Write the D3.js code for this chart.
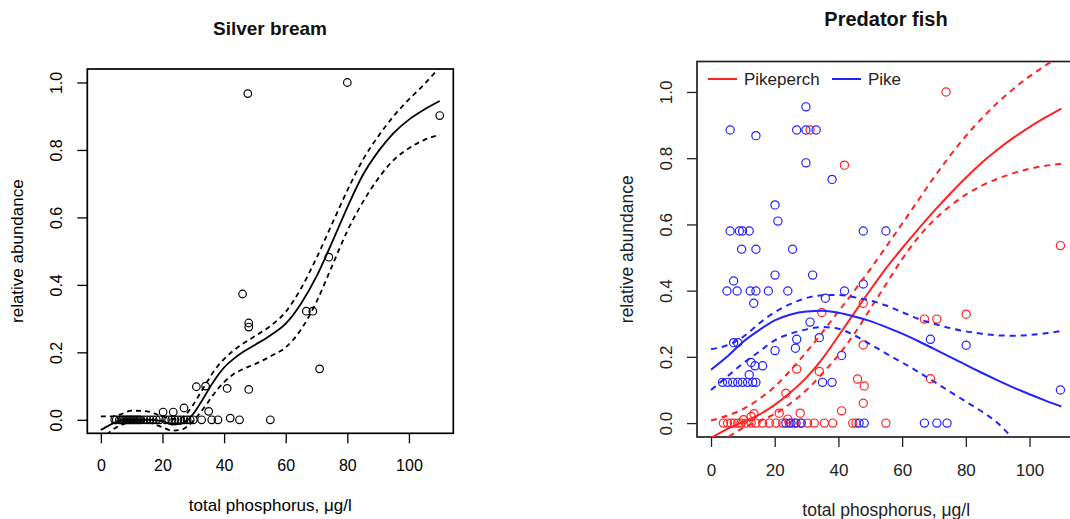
<!DOCTYPE html>
<html lang="en">

<head>
    <meta charset="UTF-8">
    <title>Silver bream / Predator fish</title>
    <style>
        body {
            margin: 0;
            background: #fff;
        }

        text {
            font-family: "Liberation Sans", Arial, sans-serif;
        }
    </style>
</head>

<body>
    <div id="wrapper"></div>

    <script src="https://d3js.org/d3.v7.min.js"></script>
    <script>
        // ===== data =====
        // Silver bream: observations
        const breamX = [4.5, 5, 6, 6.5, 7, 7.5, 8, 8.5, 9, 9.5, 10, 10.5, 11, 11.5, 12, 12.5, 13, 14, 15, 16, 17, 18, 19,
            21, 22, 23, 24, 25, 26, 27, 28, 29, 30, 32.7, 36, 38, 45, 55,
            42, 20.2, 23.5, 27, 35, 31, 34, 41, 48, 71, 46, 48, 48, 66.7, 68.8, 74, 47.7, 80, 110];
        const breamY = [0, 0, 0, 0, 0, 0, 0, 0, 0, 0, 0, 0, 0, 0, 0, 0, 0, 0, 0, 0, 0, 0, 0,
            0, 0, 0, 0, 0, 0, 0, 0, 0, 0, 0, 0, 0, 0, 0,
            0.005, 0.023, 0.023, 0.035, 0.025, 0.098, 0.1, 0.093, 0.09, 0.151, 0.373, 0.287, 0.275, 0.322, 0.322, 0.482, 0.967, 1.0, 0.902];

        // Silver bream: fitted curve and its confidence band
        const breamCurveX = [0, 3, 6, 10, 15, 20, 23, 26, 28, 30, 32, 34, 36, 38, 40, 43, 46, 50, 55, 60, 65, 70, 75, 80, 85, 90, 95, 100, 105, 110];
        const breamFit = [-0.03, -0.015, -0.003, 0, 0, -0.004, -0.014, -0.012, -0.002, 0.018, 0.045, 0.075, 0.105, 0.132, 0.155, 0.18, 0.2,
            0.222, 0.25, 0.285, 0.345, 0.425, 0.525, 0.63, 0.725, 0.795, 0.85, 0.89, 0.92, 0.945];
        const breamUpper = [0.01, 0.01, 0.015, 0.027, 0.025, 0.01, 0.003, 0.005, 0.02, 0.045, 0.075, 0.105, 0.135, 0.16, 0.18, 0.205, 0.225,
            0.248, 0.278, 0.32, 0.39, 0.48, 0.58, 0.68, 0.77, 0.84, 0.9, 0.95, 0.995, 1.045];
        const breamLower = [-0.065, -0.035, -0.018, -0.007, -0.008, -0.022, -0.032, -0.03, -0.02, -0.003, 0.018, 0.042, 0.068, 0.092, 0.112,
            0.135, 0.15, 0.165, 0.188, 0.215, 0.268, 0.35, 0.455, 0.56, 0.645, 0.715, 0.77, 0.805, 0.83, 0.845];

        // Predator fish: Pikeperch observations
        const pikeperchX = [3.9, 5.2, 6.3, 7.3, 8.4, 9.4, 11.0, 12.6, 14.1, 16.2, 18.3, 20.4, 22.5, 24.6, 26.2, 28.3, 30.3, 32.4, 35.6, 38.2, 44.5, 45.5, 54.9,
            10.2, 12.6, 13.5, 21.4, 24.1, 28, 41, 47.8, 23.5, 26.9, 34, 46, 48.1, 68.9, 34.8, 47.8, 47.8, 67, 70.9, 80.1, 31.1, 41.9, 73.8, 109.7];
        const pikeperchY = [0, 0, 0, 0, 0, 0, 0, 0, 0, 0, 0, 0, 0, 0, 0, 0, 0, 0, 0, 0, 0, 0, 0,
            0.01, 0.02, 0.028, 0.03, 0.012, 0.03, 0.037, 0.06, 0.09, 0.163, 0.156, 0.133, 0.112, 0.134, 0.334, 0.236, 0.362, 0.314, 0.314, 0.329, 0.885, 0.779, 1.0, 0.536];

        // Predator fish: Pike observations
        const pikeX = [29.8, 6.0, 14.1, 26.9, 29.8, 33.0, 29.8, 38, 20.1, 21, 6, 8.9, 9.9, 12, 47.8, 54.9, 9.6, 14.1, 25.6, 20.1, 31.9, 7.1,
            5, 8.2, 12.3, 14.1, 18, 24.1, 41.9, 13.4, 47.8, 35.9, 31.1, 7.1, 8.4, 26.9, 34, 26.5, 20.1, 41, 12.6, 13.8, 16.2, 12,
            3.6, 5.2, 6.8, 8.4, 9.9, 11.5, 13.1, 14.1, 35, 38, 68.9, 80.1, 109.7, 23.5, 25.1, 26.7, 28.3, 46.5, 48.1, 67, 70.9, 74.1];
        const pikeY = [0.955, 0.885, 0.868, 0.885, 0.885, 0.885, 0.786, 0.736, 0.659, 0.61, 0.58, 0.58, 0.58, 0.58, 0.58, 0.58, 0.525, 0.525, 0.525, 0.447, 0.447, 0.429,
            0.399, 0.399, 0.399, 0.399, 0.399, 0.399, 0.399, 0.362, 0.42, 0.377, 0.305, 0.243, 0.243, 0.253, 0.258, 0.226, 0.219, 0.204, 0.183, 0.173, 0.173, 0.146,
            0.123, 0.123, 0.123, 0.123, 0.123, 0.123, 0.123, 0.123, 0.123, 0.123, 0.253, 0.235, 0.10, 0, 0, 0, 0, 0, 0, 0, 0, 0];

        // Predator fish: fitted curves
        const fishCurveX = [0, 5, 10, 15, 20, 25, 30, 35, 40, 45, 50, 55, 60, 65, 70, 75, 80, 85, 90, 95, 100, 105, 110];
        const pikeperchFit = [-0.045, -0.018, 0.003, 0.025, 0.055, 0.093, 0.138, 0.195, 0.263, 0.333, 0.402, 0.468, 0.528, 0.585, 0.64, 0.692, 0.741, 0.786, 0.826, 0.862, 0.894, 0.923, 0.95];
        const pikeperchUpper = [0.008, 0.022, 0.042, 0.072, 0.11, 0.16, 0.215, 0.275, 0.337, 0.4, 0.465, 0.533, 0.602, 0.672, 0.742, 0.807, 0.867, 0.92, 0.968, 1.01, 1.047, 1.08, 1.11];
        const pikeperchLower = [-0.08, -0.045, -0.015, 0.005, 0.028, 0.06, 0.1, 0.15, 0.205, 0.27, 0.345, 0.42, 0.495, 0.56, 0.613, 0.655, 0.69, 0.717, 0.738, 0.755, 0.768, 0.777, 0.783];
        const pikeFit = [0.161, 0.2, 0.245, 0.28, 0.31, 0.328, 0.337, 0.339, 0.333, 0.322, 0.308, 0.29, 0.27, 0.248, 0.224, 0.2, 0.176, 0.152, 0.129, 0.107, 0.087, 0.068, 0.05];
        const pikeUpper = [0.223, 0.235, 0.26, 0.3, 0.335, 0.36, 0.378, 0.386, 0.387, 0.38, 0.37, 0.355, 0.335, 0.315, 0.3, 0.287, 0.277, 0.27, 0.265, 0.264, 0.266, 0.271, 0.278];
        const pikeLower = [0.10, 0.14, 0.18, 0.215, 0.25, 0.27, 0.283, 0.29, 0.285, 0.265, 0.238, 0.21, 0.183, 0.155, 0.125, 0.095, 0.065, 0.035, 0.0, -0.05, null, null, null];

        const xTicks = [0, 20, 40, 60, 80, 100];
        const yTicks = [0, 0.2, 0.4, 0.6, 0.8, 1.0];
        const legendNames = ["Pikeperch", "Pike"];

        // ===== canvas =====
        const svg = d3.select('#wrapper').append('svg')
            .attr('width', 1070)
            .attr('height', 519);

        // draw one panel: box, axes, labels; returns a group clipped to the box
        function drawPanel(p) {
            const g = svg.append('g');
            const [x0, x1] = p.x.range();
            const [y0, y1] = p.y.range();

            g.append('defs').append('clipPath').attr('id', p.id)
                .append('rect')
                .attr('x', x0).attr('y', y1)
                .attr('width', x1 - x0).attr('height', y0 - y1);

            // x axis
            const xAxis = d3.axisBottom(p.x)
                .tickValues(xTicks)
                .tickSizeOuter(0)
                .tickSizeInner(p.tick)
                .tickFormat(d3.format('d'));
            const gx = g.append('g')
                .attr('transform', `translate(0,${y0})`)
                .call(xAxis);
            gx.select('.domain').remove();
            gx.selectAll('.tick line').attr('stroke', p.ink).attr('stroke-width', 1.3);
            gx.selectAll('.tick text')
                .attr('y', p.xLabelBase - y0).attr('dy', null)
                .attr('fill', p.ink)
                .style('font-size', p.tickFont + 'px');

            // y axis, labels rotated like R
            const yAxis = d3.axisLeft(p.y)
                .tickValues(yTicks)
                .tickSizeOuter(0)
                .tickSizeInner(p.tick)
                .tickFormat(d3.format('.1f'));
            const gy = g.append('g')
                .attr('transform', `translate(${x0},0)`)
                .call(yAxis);
            gy.select('.domain').remove();
            gy.selectAll('.tick line').attr('stroke', p.ink).attr('stroke-width', 1.3);
            gy.selectAll('.tick text')
                .attr('x', null).attr('dy', null)
                .attr('text-anchor', 'middle')
                .attr('transform', `translate(${p.yLabelBase - x0},0) rotate(-90)`)
                .attr('fill', p.ink)
                .style('font-size', p.tickFont + 'px');

            // box
            g.append('rect')
                .attr('x', x0).attr('y', y1)
                .attr('width', x1 - x0).attr('height', y0 - y1)
                .attr('fill', 'none')
                .attr('stroke', p.ink)
                .attr('stroke-width', 1.7);

            // titles
            g.append('text')
                .attr('x', p.titleX).attr('y', p.titleY)
                .attr('text-anchor', 'middle')
                .style('font-size', p.titleFont + 'px')
                .style('font-weight', 'bold')
                .attr('fill', '#111')
                .text(p.title);

            g.append('text')
                .attr('x', (x0 + x1) / 2).attr('y', p.xTitleBase)
                .attr('text-anchor', 'middle')
                .style('font-size', p.labFont + 'px')
                .attr('fill', p.ink)
                .text('total phosphorus, μg/l');

            g.append('text')
                .attr('transform', `translate(${p.yTitleBase},${(y0 + y1) / 2}) rotate(-90)`)
                .attr('text-anchor', 'middle')
                .style('font-size', p.labFont + 'px')
                .attr('fill', p.ink)
                .text('relative abundance');

            return g.append('g').attr('clip-path', `url(#${p.id})`);
        }

        function drawCurve(layer, xs, ys, xScale, yScale, color, width, dash) {
            const pts = xs.map((d, i) => [d, ys[i]]);
            const line = d3.line()
                .defined(d => d[1] !== null)
                .x(d => xScale(d[0]))
                .y(d => yScale(d[1]))
                .curve(d3.curveMonotoneX);
            layer.append('path')
                .attr('d', line(pts))
                .attr('fill', 'none')
                .attr('stroke', color)
                .attr('stroke-width', width)
                .style('stroke-dasharray', dash);
        }

        function drawPoints(layer, xs, ys, xScale, yScale, color, r) {
            layer.selectAll(null)
                .data(xs.map((d, i) => [d, ys[i]]))
                .join('circle')
                .attr('cx', d => xScale(d[0]))
                .attr('cy', d => yScale(d[1]))
                .attr('r', r)
                .attr('fill', 'none')
                .attr('stroke', color)
                .attr('stroke-width', 1.2);
        }

        // ===== left panel: Silver bream =====
        const xL = d3.scaleLinear().domain([-4.4, 114.4]).range([87.3, 453.3]);
        const yL = d3.scaleLinear().domain([-0.04, 1.04]).range([433.3, 69]);

        const left = drawPanel({
            id: 'clipL', x: xL, y: yL, ink: '#000', tick: 10,
            tickFont: 16, labFont: 17, titleFont: 19,
            xLabelBase: 471.5, yLabelBase: 62, xTitleBase: 510.5, yTitleBase: 23.3,
            title: 'Silver bream', titleX: 270, titleY: 35
        });

        drawPoints(left, breamX, breamY, xL, yL, '#000', 3.8);
        drawCurve(left, breamCurveX, breamFit, xL, yL, '#000', 1.8, null);
        drawCurve(left, breamCurveX, breamUpper, xL, yL, '#000', 1.8, '5,4');
        drawCurve(left, breamCurveX, breamLower, xL, yL, '#000', 1.8, '5,4');

        // ===== right panel: Predator fish =====
        const xR = d3.scaleLinear().domain([-4.4, 114.4]).range([697, 1075.4]);
        const yR = d3.scaleLinear().domain([-0.042, 1.092]).range([437, 61.5]);

        const right = drawPanel({
            id: 'clipR', x: xR, y: yR, ink: '#222', tick: 10,
            tickFont: 17, labFont: 17.5, titleFont: 20,
            xLabelBase: 475.5, yLabelBase: 672, xTitleBase: 516, yTitleBase: 632.7,
            title: 'Predator fish', titleX: 886, titleY: 26
        });

        const red = '#f22', blue = '#22f';
        drawPoints(right, pikeperchX, pikeperchY, xR, yR, red, 4.1);
        drawPoints(right, pikeX, pikeY, xR, yR, blue, 4.1);

        drawCurve(right, fishCurveX, pikeperchFit, xR, yR, red, 2, null);
        drawCurve(right, fishCurveX, pikeperchUpper, xR, yR, red, 2, '6,5');
        drawCurve(right, fishCurveX, pikeperchLower, xR, yR, red, 2, '6,5');
        drawCurve(right, fishCurveX, pikeFit, xR, yR, blue, 2, null);
        drawCurve(right, fishCurveX, pikeUpper, xR, yR, blue, 2, '6,5');
        drawCurve(right, fishCurveX, pikeLower, xR, yR, blue, 2, '6,5');

        // legend (no frame)
        const legend = svg.append('g');
        const legendX = [708, 832];
        [red, blue].forEach((c, i) => {
            legend.append('line')
                .attr('x1', legendX[i]).attr('x2', legendX[i] + 29)
                .attr('y1', 79).attr('y2', 79)
                .attr('stroke', c).attr('stroke-width', 2);
            legend.append('text')
                .attr('x', legendX[i] + 36).attr('y', 85)
                .style('font-size', '17px')
                .attr('fill', '#222')
                .text(legendNames[i]);
        });
    </script>
</body>

</html>
